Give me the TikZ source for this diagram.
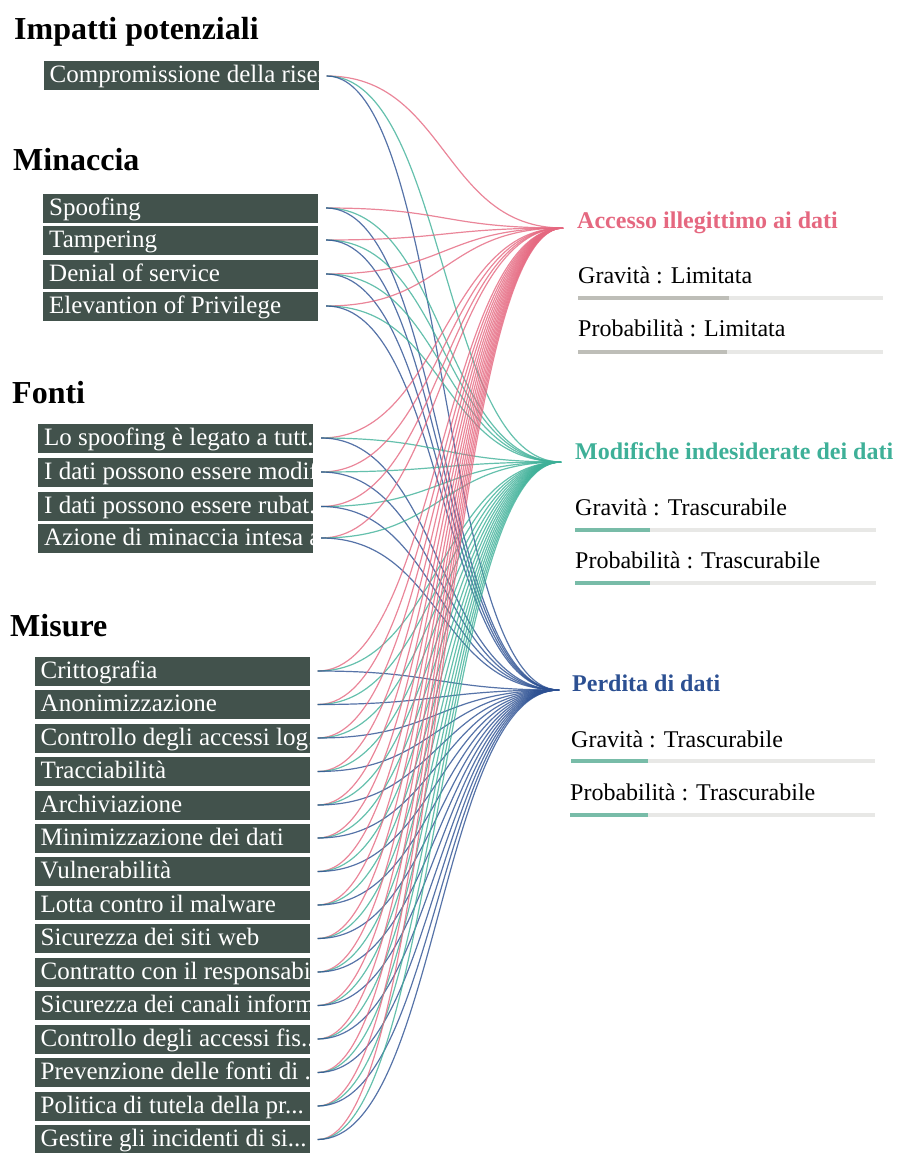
\documentclass[tikz,border=0pt]{standalone}
\usepackage{fontspec}
\setmainfont{Liberation Serif}
\definecolor{boxfill}{RGB}{66,82,76}
\definecolor{accpink}{RGB}{229,104,128}
\definecolor{modteal}{RGB}{62,176,152}
\definecolor{perblue}{RGB}{44,80,146}
\definecolor{barlight}{RGB}{232,232,230}
\definecolor{bargray}{RGB}{190,190,184}
\definecolor{barteal}{RGB}{120,188,168}
\tikzset{
  heading/.style={anchor=base west, inner sep=0pt, font=\fontsize{32}{36}\selectfont\bfseries},
  itemtext/.style={anchor=base west, inner sep=0pt, minimum width=0pt, minimum height=0pt,
    fill=none, text=white, font=\fontsize{25}{29}\selectfont},
  itembox/.style={fill=boxfill, minimum width=275pt, minimum height=29pt, inner sep=0pt,
    path picture={\node[itemtext] at ([shift={(6pt,7.5pt)}]path picture bounding box.south west) {#1};}},
  target/.style={anchor=base west, inner sep=0pt, font=\fontsize{24}{28}\selectfont\bfseries},
  rating/.style={anchor=base west, inner sep=0pt, font=\fontsize{24}{28}\selectfont},
  link/.style={line width=1.2pt, opacity=0.8},
}
\begin{document}
\begin{tikzpicture}[x=1pt,y=-1pt]
  \useasboundingbox (0,0) rectangle (902,1153);
  % headings
  \node[heading] (hImp) at (14,40) {Impatti potenziali};
  \node[heading] (hMin) at (13,170) {Minaccia};
  \node[heading] (hFon) at (12,403) {Fonti};
  \node[heading] (hMis) at (10,636) {Misure};
  % left items
  \node[itembox={Compromissione della riser}] (imp1) at (181,76) {};
  \node[itembox={Spoofing}] (min1) at (180.5,208) {};
  \node[itembox={Tampering}] (min2) at (180.5,240) {};
  \node[itembox={Denial of service}] (min3) at (180.5,274) {};
  \node[itembox={Elevantion of Privilege}] (min4) at (180.5,306) {};
  \node[itembox={Lo spoofing è legato a tutt...}] (fon1) at (175.5,438) {};
  \node[itembox={I dati possono essere modifi}] (fon2) at (175.5,472) {};
  \node[itembox={I dati possono essere rubat...}] (fon3) at (175.5,506.5) {};
  \node[itembox={Azione di minaccia intesa a}] (fon4) at (175.5,538) {};
  \node[itembox={Crittografia}] (mis1) at (172,671) {};
  \node[itembox={Anonimizzazione}] (mis2) at (172,704.5) {};
  \node[itembox={Controllo degli accessi log..}] (mis3) at (172,738) {};
  \node[itembox={Tracciabilità}] (mis4) at (172,771.5) {};
  \node[itembox={Archiviazione}] (mis5) at (172,805) {};
  \node[itembox={Minimizzazione dei dati}] (mis6) at (172,838) {};
  \node[itembox={Vulnerabilità}] (mis7) at (172,871.5) {};
  \node[itembox={Lotta contro il malware}] (mis8) at (172,905) {};
  \node[itembox={Sicurezza dei siti web}] (mis9) at (172,938.5) {};
  \node[itembox={Contratto con il responsabi...}] (mis10) at (172,972) {};
  \node[itembox={Sicurezza dei canali inform}] (mis11) at (172,1005.5) {};
  \node[itembox={Controllo degli accessi fis...}] (mis12) at (172,1039) {};
  \node[itembox={Prevenzione delle fonti di ...}] (mis13) at (172,1072.5) {};
  \node[itembox={Politica di tutela della pr...}] (mis14) at (172,1106) {};
  \node[itembox={Gestire gli incidenti di si...}] (mis15) at (172,1139.5) {};
  % risks
  \coordinate (tAcc) at (563,228);
  \coordinate (tMod) at (561,462);
  \coordinate (tPer) at (559,690);
  \foreach \s in {imp1,min1,min2,min3,min4,fon1,fon2,fon3,fon4,mis1,mis2,mis3,mis4,mis5,mis6,mis7,mis8,mis9,mis10,mis11,mis12,mis13,mis14,mis15} {
    \draw[link, accpink] ([xshift=8pt]\s.east) .. controls +(120pt,0pt) and +(-120pt,0pt) .. (tAcc);
    \draw[link, modteal] ([xshift=8pt]\s.east) .. controls +(120pt,0pt) and +(-120pt,0pt) .. (tMod);
    \draw[link, perblue] ([xshift=8pt]\s.east) .. controls +(120pt,0pt) and +(-120pt,0pt) .. (tPer);
  }
  \node[target, text=accpink] (acc) at (577,228) {Accesso illegittimo ai dati};
  \node[rating] (accG) at (578,283) {Gravità : Limitata};
  \node[rating] (accP) at (578,336) {Probabilità : Limitata};
  \fill[barlight] (578,296) rectangle (883,300);
  \fill[bargray] (578,296) rectangle (729,300);
  \fill[barlight] (578,350) rectangle (883,354);
  \fill[bargray] (578,350) rectangle (727,354);
  \node[target, text=modteal] (mod) at (575,459) {Modifiche indesiderate dei dati};
  \node[rating] (modG) at (575,515) {Gravità : Trascurabile};
  \node[rating] (modP) at (575,568) {Probabilità : Trascurabile};
  \fill[barlight] (575,528) rectangle (876,532);
  \fill[barteal] (575,528) rectangle (650,532);
  \fill[barlight] (575,581) rectangle (876,585);
  \fill[barteal] (575,581) rectangle (650,585);
  \node[target, text=perblue] (per) at (572,691) {Perdita di dati};
  \node[rating] (perG) at (571,747) {Gravità : Trascurabile};
  \node[rating] (perP) at (570,800) {Probabilità : Trascurabile};
  \fill[barlight] (571,759) rectangle (875,763);
  \fill[barteal] (571,759) rectangle (648,763);
  \fill[barlight] (570,813) rectangle (875,817);
  \fill[barteal] (570,813) rectangle (648,817);
\end{tikzpicture}
\end{document}
